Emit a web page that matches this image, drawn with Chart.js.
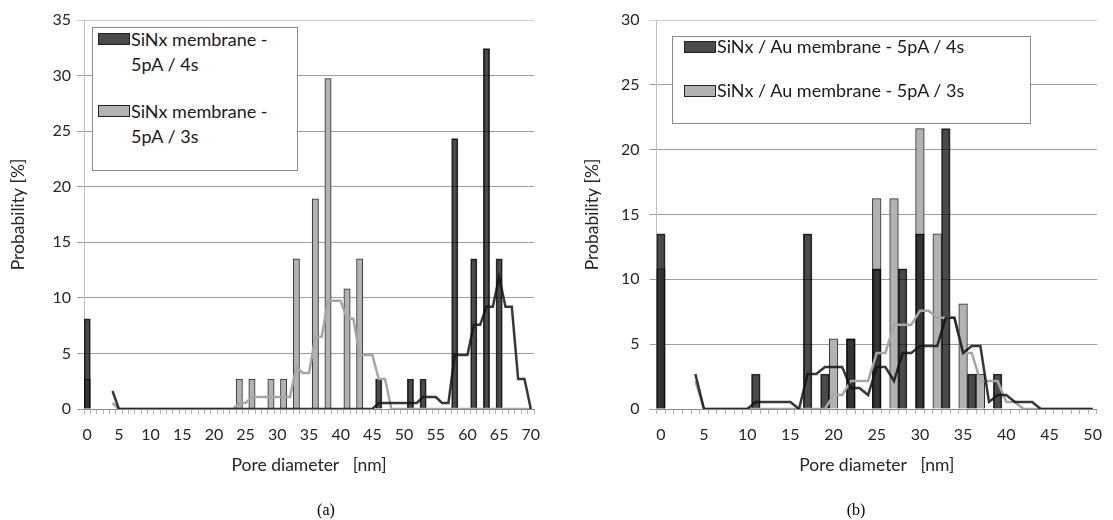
<!DOCTYPE html>
<html>
<head>
<meta charset="utf-8">
<script src="https://cdn.jsdelivr.net/npm/chart.js@4.4.1/dist/chart.umd.min.js"></script>
<style>
  html, body { margin: 0; padding: 0; background: #fff; }
  #wrap { position: relative; width: 1113px; height: 520px; overflow: hidden; font-family: Lato, "Open Sans", sans-serif; }
  canvas { position: absolute; top: 0; }
  .legend { position: absolute; background: #fff; border: 1px solid #8c8c8c; box-sizing: border-box; }
  .sw { position: absolute; width: 32px; height: 12px; box-sizing: border-box; border: 1px solid #222; }
  .lt { position: absolute; font-size: 18px; line-height: 25px; color: #1a1a1a; white-space: nowrap; }
  .cap { position: absolute; top: 501px; font-family: "Liberation Serif", "Times New Roman", serif; font-size: 16px; color: #000; transform: translateX(-50%); }
</style>
</head>
<body>
<div id="wrap">
  <canvas id="ca" width="556" height="520" style="left:0"></canvas>
  <canvas id="cb" width="557" height="520" style="left:556px"></canvas>

  <div class="legend" style="left:92px; top:27px; width:206px; height:144px;">
    <div class="sw" style="left:5px; top:5px; background:#4a4a4a;"></div>
    <div class="lt" style="left:38px; top:-1px;">SiNx membrane -<br>5pA / 4s</div>
    <div class="sw" style="left:5px; top:77px; background:#b2b2b2;"></div>
    <div class="lt" style="left:38px; top:71px;">SiNx membrane -<br>5pA / 3s</div>
  </div>

  <div class="legend" style="left:672px; top:36px; width:359px; height:88px;">
    <div class="sw" style="left:11px; top:4px; background:#4a4a4a;"></div>
    <div class="lt" style="left:44px; top:-3px;">SiNx / Au membrane - 5pA / 4s</div>
    <div class="sw" style="left:11px; top:48px; background:#b2b2b2;"></div>
    <div class="lt" style="left:44px; top:41px;">SiNx / Au membrane - 5pA / 3s</div>
  </div>

  <div class="cap" style="left:326px;">(a)</div>
  <div class="cap" style="left:856px;">(b)</div>
</div>

<script>
// ---------- Panel (a): SiNx membrane, pore diameter 0..70 nm ----------
const aCategories = [
  '0','1','2','3','4','5','6','7','8','9',
  '10','11','12','13','14','15','16','17','18','19',
  '20','21','22','23','24','25','26','27','28','29',
  '30','31','32','33','34','35','36','37','38','39',
  '40','41','42','43','44','45','46','47','48','49',
  '50','51','52','53','54','55','56','57','58','59',
  '60','61','62','63','64','65','66','67','68','69',
  '70'
];
const aDark4s = [
  8.11,0,0,0,0,0,0,0,0,0,
  0,0,0,0,0,0,0,0,0,0,
  0,0,0,0,0,0,0,0,0,0,
  0,0,0,0,0,0,0,0,0,0,
  0,0,0,0,0,0,2.70,0,0,0,
  0,2.70,0,2.70,0,0,0,0,24.32,0,
  0,13.51,0,32.43,0,13.51,0,0,0,0,
  0
];
const aLight3s = [
  2.70,0,0,0,0,0,0,0,0,0,
  0,0,0,0,0,0,0,0,0,0,
  0,0,0,0,2.70,0,2.70,0,0,2.70,
  0,2.70,0,13.51,0,0,18.92,0,29.73,0,
  0,10.81,0,13.51,0,0,0,0,0,0,
  0,0,0,0,0,0,0,0,0,0,
  0,0,0,0,0,0,0,0,0,0,
  0
];
const aDarkAvg = [
  null,null,null,null,1.62,0,0,0,0,0,
  0,0,0,0,0,0,0,0,0,0,
  0,0,0,0,0,0,0,0,0,0,
  0,0,0,0,0,0,0,0,0,0,
  0,0,0,0,0,0,0.54,0.54,0.54,0.54,
  0.54,0.54,0.54,1.08,1.08,1.08,0.54,0.54,4.86,4.86,
  4.86,7.57,7.57,9.19,9.19,11.89,9.19,9.19,2.70,2.70,
  0
];
const aLightAvg = [
  null,null,null,null,0.54,0,0,0,0,0,
  0,0,0,0,0,0,0,0,0,0,
  0,0,0,0,0.54,0.54,1.08,1.08,1.08,1.08,
  1.08,1.08,1.08,3.78,3.24,3.24,6.49,6.49,9.73,9.73,
  9.73,8.11,8.11,4.86,4.86,4.86,2.70,2.70,0,0,
  0,0,0,0,0,0,0,0,0,0,
  0,0,0,0,0,0,0,0,0,0,
  0
];

// ---------- Panel (b): SiNx / Au membrane, pore diameter 0..50 nm ----------
const bCategories = [
  '0','1','2','3','4','5','6','7','8','9',
  '10','11','12','13','14','15','16','17','18','19',
  '20','21','22','23','24','25','26','27','28','29',
  '30','31','32','33','34','35','36','37','38','39',
  '40','41','42','43','44','45','46','47','48','49',
  '50'
];
const bDark4s = [
  13.51,0,0,0,0,0,0,0,0,0,
  0,2.70,0,0,0,0,0,13.51,0,2.70,
  0,0,5.41,0,0,10.81,0,0,10.81,0,
  13.51,0,0,21.62,0,0,2.70,0,0,2.70,
  0,0,0,0,0,0,0,0,0,0,
  0
];
const bLight3s = [
  10.81,0,0,0,0,0,0,0,0,0,
  0,0,0,0,0,0,0,0,0,0,
  5.41,0,5.41,0,0,16.22,0,16.22,0,0,
  21.62,0,13.51,0,0,8.11,0,2.70,0,0,
  0,0,0,0,0,0,0,0,0,0,
  0
];
const bDarkAvg = [
  null,null,null,null,2.70,0,0,0,0,0,
  0,0.54,0.54,0.54,0.54,0.54,0,2.70,2.70,3.24,
  3.24,3.24,1.62,1.62,1.08,3.24,3.24,2.16,4.32,4.32,
  4.86,4.86,4.86,7.03,7.03,4.32,4.86,4.86,0.54,1.08,
  1.08,0.54,0.54,0.54,0,0,0,0,0,0,
  0
];
const bLightAvg = [
  null,null,null,null,2.16,0,0,0,0,0,
  0,0,0,0,0,0,0,0,0,0,
  1.08,1.08,2.16,2.16,2.16,4.32,4.32,6.49,6.49,6.49,
  7.57,7.57,7.03,7.03,7.03,4.32,4.32,2.16,2.16,2.16,
  0.54,0.54,0,0,0,0,0,0,0,0,
  0
];

const aYTicks = { max: 35, step: 5 };
const bYTicks = { max: 30, step: 5 };

const FONT = 'Lato, "Open Sans", sans-serif';
const DARK_FILL = 'rgba(0,0,0,0.71)';
const LIGHT_FILL = '#b2b2b2';

function datasets(dark, light, darkAvg, lightAvg, labels) {
  return [
    { type: 'line', label: labels[0] + ' avg', data: darkAvg, borderColor: 'rgba(20,20,20,0.85)', borderWidth: 2.5,
      pointRadius: 0, tension: 0, fill: false, order: 0, spanGaps: false },
    { type: 'line', label: labels[1] + ' avg', data: lightAvg, borderColor: '#a6a6a6', borderWidth: 2.5,
      pointRadius: 0, tension: 0, fill: false, order: 1, spanGaps: false },
    { type: 'bar', label: labels[0], data: dark, backgroundColor: DARK_FILL, borderColor: 'rgba(0,0,0,0.8)',
      borderWidth: 1, grouped: false, barPercentage: 1, categoryPercentage: 1, order: 2 },
    { type: 'bar', label: labels[1], data: light, backgroundColor: LIGHT_FILL, borderColor: '#2a2a2a',
      borderWidth: 1, grouped: false, barPercentage: 1, categoryPercentage: 1, order: 3 }
  ];
}

function makeChart(id, cats, ds, yt, cfg) {
  return new Chart(document.getElementById(id), {
    type: 'bar',
    data: { labels: cats, datasets: ds },
    options: {
      responsive: false,
      animation: false,
      devicePixelRatio: 1,
      layout: { padding: { left: cfg.padLeft, right: cfg.padRight, top: 20, bottom: 41 } },
      plugins: { legend: { display: false }, tooltip: { enabled: false } },
      scales: {
        x: {
          type: 'category',
          offset: true,
          grid: { display: true, drawOnChartArea: false, drawTicks: true, tickLength: 5, offset: true, color: '#b4b4b4' },
          border: { display: true, color: '#8a8a8a', width: 1 },
          ticks: {
            autoSkip: false, maxRotation: 0, minRotation: 0, padding: 11,
            color: '#262626', font: { family: FONT, size: 16 },
            callback: function (val, idx) { return idx % 5 === 0 ? this.getLabelForValue(val) : ''; }
          },
          title: { display: true, text: 'Pore diameter   [nm]', color: '#262626', font: { family: FONT, size: 17.5 }, padding: 3 },
          afterFit: function (s) { s.height = 70; }
        },
        y: {
          min: 0, max: yt.max,
          grid: { color: (c) => (c.tick && c.tick.value === yt.max) ? '#cfcfcf' : '#9e9e9e', tickLength: 7, lineWidth: 1 },
          border: { display: true, color: '#bdbdbd', width: 1 },
          ticks: { stepSize: yt.step, padding: cfg.yPad, color: '#262626', font: { family: FONT, size: 16 } },
          title: { display: true, text: 'Probability [%]', color: '#262626', font: { family: FONT, size: 17.5 }, padding: 3 },
          afterFit: function (s) { s.width = cfg.yWidth; }
        }
      }
    }
  });
}

makeChart('ca', aCategories,
  datasets(aDark4s, aLight3s, aDarkAvg, aLightAvg, ['SiNx membrane - 5pA / 4s', 'SiNx membrane - 5pA / 3s']),
  aYTicks, { padLeft: 5, padRight: 22, yWidth: 79, yPad: 6 });

makeChart('cb', bCategories,
  datasets(bDark4s, bLight3s, bDarkAvg, bLightAvg, ['SiNx / Au membrane - 5pA / 4s', 'SiNx / Au membrane - 5pA / 3s']),
  bYTicks, { padLeft: 23, padRight: 7, yWidth: 77.5, yPad: 10 });
</script>
</body>
</html>
